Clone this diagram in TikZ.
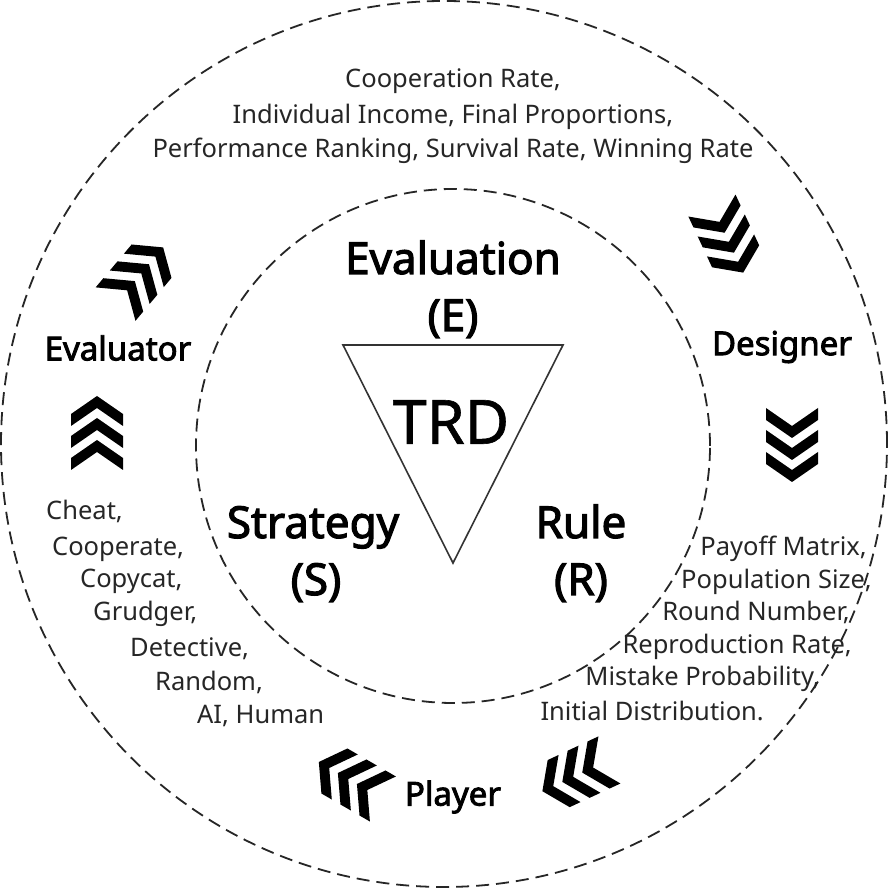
\documentclass[tikz,border=0pt]{standalone}
\usepackage{fontspec}
\setmainfont{Noto Sans}
\newfontfamily\heavyfont{Noto Sans}[FakeBold=2.6]
\newfontfamily\mediumfont{Noto Sans}[FakeBold=1]
\begin{document}
\begin{tikzpicture}[
  x=1pt,y=1pt,
  ring/.style={draw=black!85, line width=1.8pt, dash pattern=on 13pt off 7pt},
  small/.style={font=\fontsize{25.5}{30}\selectfont, text=black!85, inner sep=0pt},
  big/.style={font=\heavyfont\fontsize{44}{52}\selectfont, inner sep=0pt},
  role/.style={font=\heavyfont\fontsize{33}{40}\selectfont, inner sep=0pt},
  chevron/.pic={
    \foreach \k in {-22,0,22} {
      \fill[black] (-26,\k-4) -- (0,\k+14) -- (26,\k-4) -- (26,\k-16) -- (0,\k+2) -- (-26,\k-16) -- cycle;
    }
  }
]
\useasboundingbox (0,0) rectangle (889,888);
\fill[white] (0,0) rectangle (889,888);

% circles
\draw[ring] (444,444) circle (443);
\draw[ring] (453,442) circle (257);

% triangle
\draw[black!80, line width=1.6pt, line join=miter] (343,543) -- (563,543) -- (453,325) -- cycle;
\node[inner sep=0pt, font=\mediumfont\fontsize{61}{70}\selectfont] (trd) at (451,466) {TRD};

% central labels
\node[big, anchor=base] (eval1) at (453,614) {Evaluation};
\node[big, anchor=base] (eval2) at (453,557) {(E)};
\node[big, anchor=base] (str1) at (313,350) {Strategy};
\node[big, anchor=base] (str2) at (316,293) {(S)};
\node[big, anchor=base] (rule1) at (581,350) {Rule};
\node[big, anchor=base] (rule2) at (581,293) {(R)};

% roles
\node[role] (evaluator) at (118,540) {Evaluator};
\node[role] (designer) at (782,541) {Designer};
\node[role] (player) at (453,91) {Player};

% top metrics
\node[small, anchor=base] (m1) at (453,800) {Cooperation Rate,};
\node[small, anchor=base] (m2) at (453,764) {Individual Income, Final Proportions,};
\node[small, anchor=base] (m3) at (453,730) {Performance Ranking, Survival Rate, Winning Rate};

% strategies
\node[small, anchor=base west] (s1) at (46,368) {Cheat,};
\node[small, anchor=base west] (s2) at (52,332) {Cooperate,};
\node[small, anchor=base west] (s3) at (80,300) {Copycat,};
\node[small, anchor=base west] (s4) at (93,267) {Grudger,};
\node[small, anchor=base west] (s5) at (130,231) {Detective,};
\node[small, anchor=base west] (s6) at (155,197) {Random,};
\node[small, anchor=base west] (s7) at (197,164) {AI, Human};

% rules
\node[small, anchor=base east] (r1) at (867,332) {Payoff Matrix,};
\node[small, anchor=base east] (r2) at (872,299) {Population Size,};
\node[small, anchor=base east] (r3) at (850,267) {Round Number,};
\node[small, anchor=base east] (r4) at (852,234) {Reproduction Rate,};
\node[small, anchor=base east] (r5) at (820,202) {Mistake Probability,};
\node[small, anchor=base east] (r6) at (764,167) {Initial Distribution.};

% chevrons
\pic[rotate=0] at (97,456) {chevron};
\pic[rotate=180] at (792,442) {chevron};
\pic[rotate=-40] at (140,613) {chevron};
\pic[rotate=-155] at (728,648) {chevron};
\pic[rotate=60] at (350,108) {chevron};
\pic[rotate=115] at (575,112) {chevron};
\end{tikzpicture}
\end{document}
